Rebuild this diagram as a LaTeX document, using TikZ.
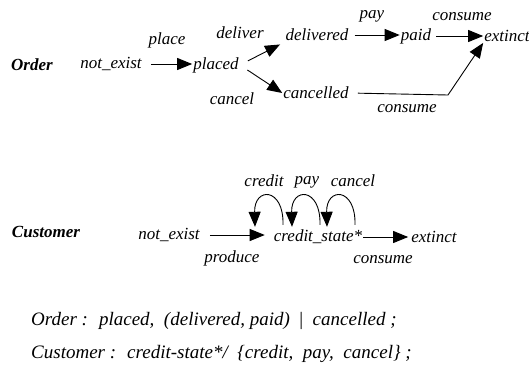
\documentclass[tikz,border=0pt]{standalone}
\usepackage{fontspec}
\setmainfont{Liberation Serif}
\usetikzlibrary{arrows.meta, positioning}
\tikzset{state/.style={font=\fontsize{17}{20}\selectfont\itshape,inner sep=1pt},
  head/.style={state,font=\fontsize{17}{20}\selectfont\bfseries\itshape},
  line/.style={-{Triangle[length=15pt,width=12pt]},line width=0.9pt},
  formula/.style={font=\fontsize{19}{22}\selectfont\itshape,anchor=west,inner sep=0pt}}

\begin{document}
\begin{tikzpicture}[x=1pt,y=-1pt]
\useasboundingbox (0,0) rectangle (529,378);
% Order
\node[head] (order) at (32,65) {Order};
\node[state] (ne1) at (111,64) {not\_exist};
\node[state] (placed) at (216,65) {placed};
\node[state] (delivered) at (317,35) {delivered};
\node[state] (paid) at (416,36) {paid};
\node[state] (ext1) at (507,36) {extinct};
\node[state] (cancelled) at (316,93) {cancelled};
\node[state] (lplace) at (167,40) {place};
\node[state] (ldeliver) at (240,33) {deliver};
\node[state] (lcancel) at (232,99) {cancel};
\node[state] (lpay) at (372,16) {pay};
\node[state] (lconsume1) at (462,17) {consume};
\node[state] (lconsume2) at (407,109) {consume};
\coordinate (bend) at (448,95);
\draw[line, shorten <=8pt] (ne1.east) -- (ne1.east -| placed.west);
\draw[line, shorten <=9pt, shorten >=5pt] (placed.east) -- (delivered.south west);
\draw[line, shorten <=9pt] (placed.east) -- (cancelled.west);
\draw[line, shorten <=5pt] (delivered.east) -- (delivered.east -| paid.west);
\draw[line, shorten <=4pt] (paid.east) -- (paid.east -| ext1.west);
\draw[line, shorten <=8pt] (cancelled.east) -- (bend) -- (ext1.south west);
% Customer
\node[head] (customer) at (46,232) {Customer};
\node[state] (ne2) at (169,235) {not\_exist};
\node[state] (cstate) at (318,237) {credit\_state*};
\node[state] (ext2) at (434,237) {extinct};
\node[state] (lproduce) at (232,258) {produce};
\node[state] (lconsume3) at (383,260) {consume};
\node[state] (lcredit) at (264,181) {credit};
\node[state] (lpay2) at (307,182) {pay};
\node[state] (lcancel2) at (353,181) {cancel};
\draw[line, shorten <=9pt, shorten >=8pt] (ne2.east) -- (ne2.east -| cstate.west);
\draw[line, shorten >=2pt] (cstate.east) -- (cstate.east -| ext2.west);
\foreach \dx in {-63,-26,9}
  \draw[line] ([shift={(\dx+28,-4)}]cstate.north) .. controls +(1,-38) and +(-1,-40) .. ([shift={(\dx,-2)}]cstate.north);
% formulas
\node[formula] (forder) at (31,321) {Order : \ placed, \ (delivered, paid) \ \textup{|} \ cancelled ;};
\node[formula] (fcust) at (31,354) {Customer : \ credit-state*/ \ \{credit, \ pay, \ cancel\} ;};
\end{tikzpicture}
\end{document}
